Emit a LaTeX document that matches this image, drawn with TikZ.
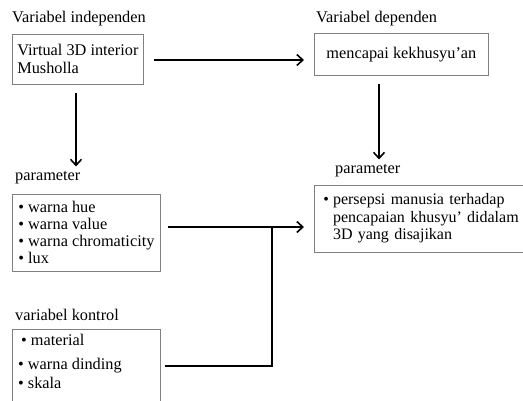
\documentclass[tikz,border=0pt]{standalone}
\usepackage{fontspec}
\setmainfont{Liberation Serif}
\usetikzlibrary{arrows.meta}
\begin{document}
\begin{tikzpicture}[x=1pt,y=-1pt,
  box/.style={draw=black!50, line width=0.8pt, anchor=north west, inner xsep=4pt, inner ysep=0pt, align=left, font=\fontsize{16.3}{18}\selectfont},
  txt/.style={anchor=north west, inner sep=0pt, align=left},
  lbl/.style={anchor=west, inner sep=0pt, font=\fontsize{16.3}{18}\selectfont},
  conn/.style={line width=1.6pt, line join=miter},
  arr/.style={conn, -{Straight Barb[length=6pt,width=11pt,line width=1.6pt]}}]
\useasboundingbox (0,0) rectangle (523,401);
\clip (0,0) rectangle (523,401);
% labels
\node[lbl] (l1) at (12,19) {Variabel independen};
\node[lbl] (l2) at (316,19) {Variabel dependen};
\node[lbl] (l3) at (15,178) {parameter};
\node[lbl] (l4) at (335,171) {parameter};
\node[lbl] (l5) at (15,315) {variabel kontrol};
% boxes
\node[box, minimum width=131pt, minimum height=50pt] (b1) at (12,34) {Virtual 3D interior\\Musholla};
\node[box, minimum width=174pt, minimum height=42pt, align=center] (b2) at (314,33) {mencapai kekhusyu’an};
\node[box, minimum width=148pt, minimum height=77pt, inner xsep=6pt, font=\fontsize{16.3}{17}\selectfont] (b3) at (12,194) {• warna hue\\• warna value\\• warna chromaticity\\• lux};
\node[box, minimum width=148pt, minimum height=90pt] (b4) at (12,329) {};
\node[txt, font=\fontsize{16.3}{19}\selectfont] (b4t) at (18,334) {\hspace{3pt}• material\\[5pt]• warna dinding\\• skala};
\node[box, text width=207pt, minimum height=67pt, inner xsep=9pt, font=\fontsize{16}{17.5}\selectfont] (b5) at (314,185) {\begin{tabular}{@{}l@{\hspace{4pt}}l@{}}•&persepsi manusia terhadap\\ &pencapaian khusyu’ didalam\\ &3D yang disajikan\end{tabular}};
% connectors
\coordinate (r) at (379,0);
\coordinate (m) at (272,227);
\coordinate (m2) at (272,366);
\draw[arr, shorten <=10pt, shorten >=10pt] (b1.east |- 0,60) -- (b2.west |- 0,60);
\draw[arr, shorten <=8pt, shorten >=5pt] (76,0 |- b1.south) -- (76,0 |- l3.north);
\draw[arr, shorten <=8pt, shorten >=5pt] (r |- b2.south) -- (r |- l4.north);
\draw[conn, shorten <=7pt] (b3.east |- m) -- (m);
\draw[arr, shorten <=4pt, shorten >=10pt] (b4.east |- m2) -- (m2) -- (m) -- (m -| b5.west);
\end{tikzpicture}
\end{document}
